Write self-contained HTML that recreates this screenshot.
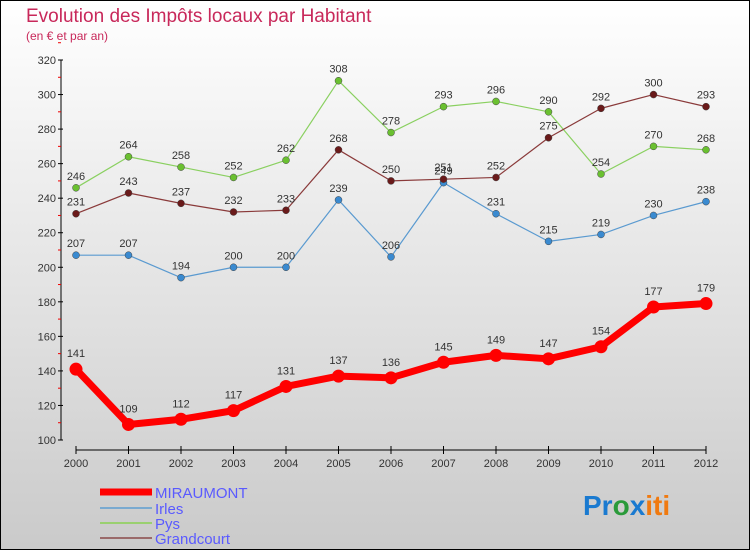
<!DOCTYPE html>
<html><head><meta charset="utf-8"><style>
html,body{margin:0;padding:0}
body{width:750px;height:550px;overflow:hidden;font-family:"Liberation Sans",sans-serif}
svg text{font-family:"Liberation Sans",sans-serif}
</style></head><body>
<svg id="chart" width="750" height="550">
<defs><linearGradient id="bg" x1="0" y1="0" x2="0" y2="1"><stop offset="0" stop-color="#ffffff"/><stop offset="1" stop-color="#cacaca"/></linearGradient></defs>
<rect x="0.5" y="0.5" width="749" height="549" fill="url(#bg)" stroke="#000"/>
<text x="26" y="22" font-size="19" fill="#c8285a">Evolution des Impôts locaux par Habitant</text>
<text x="26" y="40" font-size="12" fill="#c8285a">(en € et par an)</text>
<g id="axes"></g>
<g id="series"></g>
<g id="legend"></g>
<text x="583" y="515" font-size="28" font-weight="bold"><tspan fill="#1a7ad0">Pr</tspan><tspan fill="#2a9a3a">o</tspan><tspan fill="#1a7ad0">x</tspan><tspan fill="#f07a10">iti</tspan></text>
</svg>
<script>
const years=[2000,2001,2002,2003,2004,2005,2006,2007,2008,2009,2010,2011,2012];
const miraumont=[141,109,112,117,131,137,136,145,149,147,154,177,179];
const irles=[207,207,194,200,200,239,206,249,231,215,219,230,238];
const pys=[246,264,258,252,262,308,278,293,296,290,254,270,268];
const grandcourt=[231,243,237,232,233,268,250,251,252,275,292,300,293];
const yTicks=[100,120,140,160,180,200,220,240,260,280,300,320];
const NS="http://www.w3.org/2000/svg";
function x(i){return 76+i*52.5;}
function y(v){return 440-(v-100)*380/220;}
function mk(tag,attrs,parent){const e=document.createElementNS(NS,tag);for(const k in attrs)e.setAttribute(k,attrs[k]);parent.appendChild(e);return e;}
const axes=document.getElementById('axes');
let ya=mk('line',{x1:61,y1:60,x2:61,y2:440,stroke:'#000'},axes);


yTicks.forEach(t=>{
 mk('line',{x1:58,y1:y(t),x2:63,y2:y(t),stroke:'#000'},axes);
 mk('line',{x1:58,y1:y(t+10),x2:61,y2:y(t+10),stroke:'#e00'},axes);
 const tx=mk('text',{x:56,y:y(t)+4,'font-size':11,'text-anchor':'end',fill:'#333'},axes);tx.textContent=t;
 
 
});
let xa=mk('line',{x1:76,y1:450,x2:706,y2:450,stroke:'#000'},axes);


years.forEach((yr,i)=>{
 mk('line',{x1:x(i),y1:446,x2:x(i),y2:454,stroke:'#000'},axes);
 const tx=mk('text',{x:x(i),y:467,'font-size':11,'text-anchor':'middle',fill:'#333'},axes);tx.textContent=yr;
 
 
});
const series=[
 {name:'irles',vals:irles,color:'#5a9ad0',w:1.2,r:3.5,fill:'#3a8ad0'},
 {name:'pys',vals:pys,color:'#8ad060',w:1.2,r:3.5,fill:'#6ac030'},
 {name:'grandcourt',vals:grandcourt,color:'#8a3a3a',w:1.2,r:3.5,fill:'#6a1a1a'},
 {name:'miraumont',vals:miraumont,color:'#f00',w:7,r:6.5,fill:'#f00'}
];
const sg=document.getElementById('series');
series.forEach(s=>{
 const g=mk('g',{},sg);
 
 
 const pl=mk('polyline',{points:s.vals.map((v,i)=>x(i)+','+y(v)).join(' '),fill:'none',stroke:s.color,'stroke-width':s.w,'stroke-linejoin':'round'},g);
 
 
 s.vals.forEach((v,i)=>{
  const c=mk('circle',{cx:x(i),cy:y(v),r:s.r,fill:s.fill,stroke:s.w>2?'none':'#444','stroke-width':0.5},g);
  
  
  const t=mk('text',{x:x(i),y:y(v)-(s.w>2?12:8),'font-size':11,'text-anchor':'middle',fill:'#333'},g);t.textContent=v;
  
  
 });
});
const lg=document.getElementById('legend');
const legendItems=[['MIRAUMONT','#f00',7,492],['Irles','#7aaad0',2,508],['Pys','#9ad070',2,523],['Grandcourt','#9a6a6a',2,538]];
legendItems.forEach(it=>{
 const g=mk('g',{},lg);
 
 
 mk('line',{x1:100,y1:it[3],x2:152,y2:it[3],stroke:it[1],'stroke-width':it[2]},g);
 const t=mk('text',{x:155,y:it[3]+6,'font-size':15,fill:'#5a5aff'},g);t.textContent=it[0];
});
</script>
</body></html>
